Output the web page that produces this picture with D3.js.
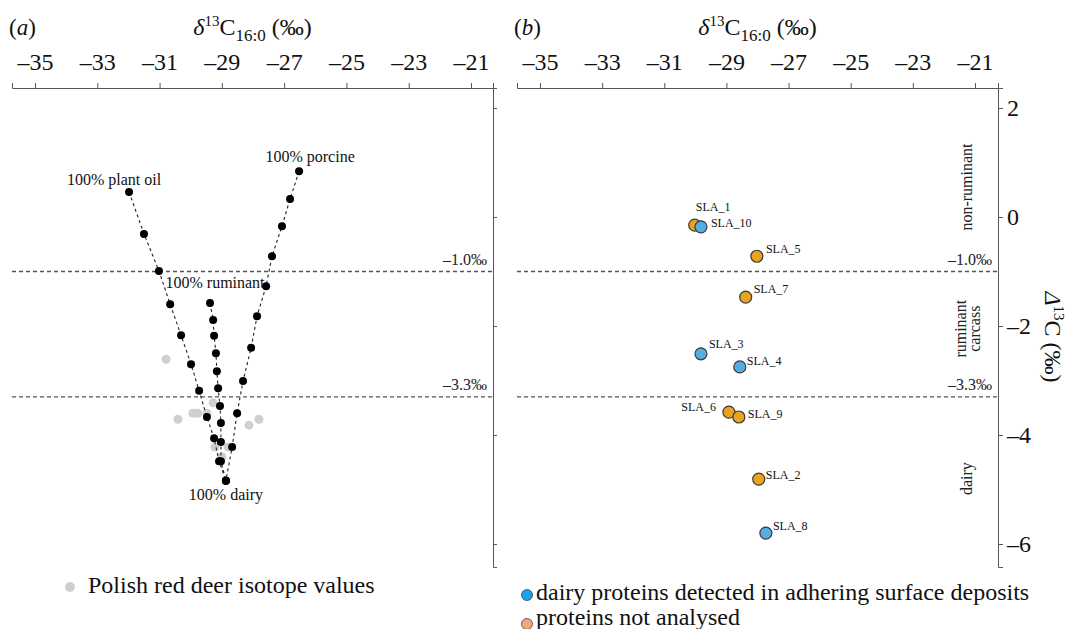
<!DOCTYPE html>
<html>
<head>
<meta charset="utf-8">
<script src="https://cdn.jsdelivr.net/npm/d3@7"></script>
<style>
  body { margin: 0; background: #fff; }
  svg { font-family: "Liberation Serif", "Times New Roman", serif; }
</style>
</head>
<body>
<div id="chart"></div>
<script>
// ---- data ----
var xTicks = [-35, -33, -31, -29, -27, -25, -23, -21];
var yTicks = [2, 0, -2, -4, -6];
var thresholds = [-1.0, -3.3];

// mixing lines, 100% end first, 100% dairy last
var plantOil = [[-31.98,0.46],[-31.50,-0.31],[-31.02,-0.99],[-30.66,-1.60],[-30.31,-2.17],[-29.99,-2.70],[-29.73,-3.19],[-29.48,-3.67],[-29.25,-4.06],[-29.09,-4.48],[-28.87,-4.84]];
var ruminant = [[-29.38,-1.58],[-29.28,-1.89],[-29.25,-2.18],[-29.19,-2.50],[-29.16,-2.83],[-29.12,-3.14],[-29.06,-3.47],[-29.03,-3.78],[-29.03,-4.13],[-29.03,-4.48],[-28.87,-4.84]];
var porcine = [[-26.52,0.84],[-26.81,0.33],[-27.07,-0.17],[-27.39,-0.72],[-27.58,-1.27],[-27.87,-1.82],[-28.06,-2.40],[-28.32,-3.01],[-28.51,-3.60],[-28.67,-4.22],[-28.87,-4.84]];

// Polish red deer
var deer = [[-30.79,-2.61],[-29.28,-3.41],[-29.93,-3.60],[-29.77,-3.60],[-29.48,-3.60],[-30.41,-3.71],[-27.81,-3.71],[-28.13,-3.82],[-29.22,-4.22],[-28.80,-4.22],[-29.00,-4.40]];

// samples
var sampleNames = ['SLA_1','SLA_10','SLA_5','SLA_7','SLA_3','SLA_4','SLA_6','SLA_9','SLA_2','SLA_8'];
var sampleD13C  = [-30.02, -29.82, -28.02, -28.38, -29.82, -28.57, -28.92, -28.60, -27.96, -27.73];
var sampleBigD  = [-0.15, -0.18, -0.72, -1.47, -2.51, -2.75, -3.58, -3.67, -4.81, -5.80];
var sampleGroup = ['none','dairy','none','none','dairy','dairy','none','none','none','dairy'];

// ---- layout ----
var W = 1066, H = 629;
var svg = d3.select('#chart').append('svg').attr('width', W).attr('height', H);

var fmt = function(d) { return d < 0 ? '\u2013' + Math.abs(d) : '' + d; };
var colors = {dairy: '#55ade3', none: '#e8a41c'};

// label offsets (pixels) for sample labels
var labelPos = {
  SLA_1: [1, -14, 'start'], SLA_10: [10, 0, 'start'], SLA_5: [9, -3, 'start'],
  SLA_7: [8, -4, 'start'], SLA_3: [8, -6, 'start'], SLA_4: [7, -2, 'start'],
  SLA_6: [-13, -1, 'end'], SLA_9: [9, 1, 'start'], SLA_2: [7, 0, 'start'], SLA_8: [7, -3, 'start']
};

function styleAxis(ax, size) {
  ax.attr('font-family', null).attr('font-size', size);
  ax.select('.domain').attr('stroke', '#555');
  ax.selectAll('.tick line').attr('stroke', '#555');
  ax.selectAll('.tick text').attr('fill', '#111');
}

function makePanel(left, right, tick0, tick1, letter) {
  var x = d3.scaleLinear().domain([-35, -21]).range([tick0, tick1]);
  x.domain([x.invert(left), x.invert(right)]).range([left, right]);
  var y = d3.scaleLinear().domain([2, -6]).range([108, 544]);
  y.domain([y.invert(88), y.invert(567)]).range([88, 567]);

  var g = svg.append('g');

  // top axis
  var ax = g.append('g')
    .attr('transform', 'translate(0,88)')
    .call(d3.axisTop(x).tickValues(xTicks).tickFormat(fmt).tickSizeOuter(0).tickSize(5));
  styleAxis(ax, 24);
  ax.selectAll('.tick text').attr('dy', -10);

  // title
  var t = g.append('text').attr('x', (left + right) / 2).attr('y', 35)
    .attr('text-anchor', 'middle').attr('font-size', 24).attr('fill', '#111');
  t.append('tspan').attr('font-style', 'italic').text('\u03b4');
  t.append('tspan').attr('font-size', 15).attr('dy', -9).text('13');
  t.append('tspan').attr('dy', 9).text('C');
  t.append('tspan').attr('font-size', 17).attr('dy', 6).text('16:0');
  t.append('tspan').attr('dy', -6).text(' (\u2030)');

  var lt = g.append('text').attr('x', left - 3).attr('y', 35).attr('font-size', 23).attr('fill', '#111');
  lt.append('tspan').text('(');
  lt.append('tspan').attr('font-style', 'italic').text(letter);
  lt.append('tspan').text(')');

  // threshold lines
  thresholds.forEach(function(v) {
    g.append('line').attr('x1', left).attr('x2', right)
      .attr('y1', y(v)).attr('y2', y(v))
      .attr('stroke', '#555').attr('stroke-width', 1.3).attr('stroke-dasharray', '4,3');
    g.append('text').attr('x', right - 6).attr('y', y(v) - 7)
      .attr('text-anchor', 'end').attr('font-size', 16).attr('fill', '#222')
      .text('\u2013' + Math.abs(v).toFixed(1) + '\u2030');
  });

  return {g: g, x: x, y: y};
}

// ---- panel (a) ----
var a = makePanel(12, 493, 35, 471, 'a');

var ra = a.g.append('g').attr('transform', 'translate(493,0)')
  .call(d3.axisRight(a.y).tickValues(yTicks).tickFormat('').tickSizeOuter(0).tickSize(4));
styleAxis(ra, 10);

a.g.selectAll('.deer').data(deer).enter().append('circle')
  .attr('cx', function(d) { return a.x(d[0]); })
  .attr('cy', function(d) { return a.y(d[1]); })
  .attr('r', 4.5).attr('fill', '#cfcfcf');

var mixLine = d3.line().x(function(d) { return a.x(d[0]); }).y(function(d) { return a.y(d[1]); });
[plantOil, ruminant, porcine].forEach(function(s) {
  a.g.append('path').attr('d', mixLine(s)).attr('fill', 'none')
    .attr('stroke', '#222').attr('stroke-width', 1.1).attr('stroke-dasharray', '3,3');
  a.g.selectAll(null).data(s).enter().append('circle')
    .attr('cx', function(d) { return a.x(d[0]); })
    .attr('cy', function(d) { return a.y(d[1]); })
    .attr('r', 4).attr('fill', '#000');
});

var endLabels = [
  {p: plantOil[0], t: '100% plant oil', dx: -15, dy: -7},
  {p: porcine[0], t: '100% porcine', dx: 11, dy: -9},
  {p: ruminant[0], t: '100% ruminant', dx: 5, dy: -15},
  {p: plantOil[plantOil.length - 1], t: '100% dairy', dx: 0, dy: 19}
];
endLabels.forEach(function(l) {
  a.g.append('text').attr('x', a.x(l.p[0]) + l.dx).attr('y', a.y(l.p[1]) + l.dy)
    .attr('text-anchor', 'middle').attr('font-size', 16).attr('fill', '#111').text(l.t);
});

// ---- panel (b) ----
var b = makePanel(517, 998, 540, 975, 'b');

var rb = b.g.append('g').attr('transform', 'translate(998,0)')
  .call(d3.axisRight(b.y).tickValues(yTicks).tickFormat(fmt).tickSizeOuter(0).tickSize(5));
styleAxis(rb, 24);
rb.selectAll('.tick text').attr('x', 9);

var yl = b.g.append('text').attr('transform', 'translate(1045,' + 337 + ') rotate(90)')
  .attr('text-anchor', 'middle').attr('font-size', 24).attr('fill', '#111');
yl.append('tspan').attr('font-style', 'italic').text('\u0394');
yl.append('tspan').attr('font-size', 15).attr('dy', -9).text('13');
yl.append('tspan').attr('dy', 9).text('C (\u2030)');

// region labels
var regions = [
  {lines: ['non-ruminant'], v: 0.55},
  {lines: ['ruminant', 'carcass'], v: -2.05},
  {lines: ['dairy'], v: -4.8}
];
regions.forEach(function(r) {
  var tx = b.g.append('text').attr('transform', 'translate(972,' + b.y(r.v) + ') rotate(-90)')
    .attr('text-anchor', 'middle').attr('font-size', 16).attr('fill', '#222');
  r.lines.forEach(function(s, i) {
    tx.append('tspan').attr('x', 0).attr('dy', i === 0 ? (r.lines.length > 1 ? -6 : 0) : 14).text(s);
  });
});

var samples = sampleNames.map(function(n, i) {
  return {name: n, x: sampleD13C[i], y: sampleBigD[i], grp: sampleGroup[i]};
});
b.g.selectAll('.sample').data(samples).enter().append('circle')
  .attr('cx', function(d) { return b.x(d.x); })
  .attr('cy', function(d) { return b.y(d.y); })
  .attr('r', 6).attr('fill', function(d) { return colors[d.grp]; })
  .attr('stroke', '#3a3a3a').attr('stroke-width', 1.2);
b.g.selectAll('.slabel').data(samples).enter().append('text')
  .attr('x', function(d) { return b.x(d.x) + labelPos[d.name][0]; })
  .attr('y', function(d) { return b.y(d.y) + labelPos[d.name][1]; })
  .attr('text-anchor', function(d) { return labelPos[d.name][2]; })
  .attr('font-size', 12).attr('fill', '#111')
  .text(function(d) { return d.name; });

// ---- legends ----
svg.append('circle').attr('cx', 70).attr('cy', 587).attr('r', 5).attr('fill', '#cfcfcf');
svg.append('text').attr('x', 88).attr('y', 593).attr('font-size', 24).attr('fill', '#111')
  .text('Polish red deer isotope values');

svg.append('circle').attr('cx', 527).attr('cy', 595).attr('r', 5.5).attr('fill', '#18a4ea').attr('stroke', '#444').attr('stroke-width', 0.8);
svg.append('text').attr('x', 536).attr('y', 600).attr('font-size', 24).attr('fill', '#111')
  .text('dairy proteins detected in adhering surface deposits');
svg.append('circle').attr('cx', 527).attr('cy', 624).attr('r', 5.5).attr('fill', '#f3a680').attr('stroke', '#444').attr('stroke-width', 0.8);
svg.append('text').attr('x', 536).attr('y', 625).attr('font-size', 24).attr('fill', '#111')
  .text('proteins not analysed');
</script>
</body>
</html>
